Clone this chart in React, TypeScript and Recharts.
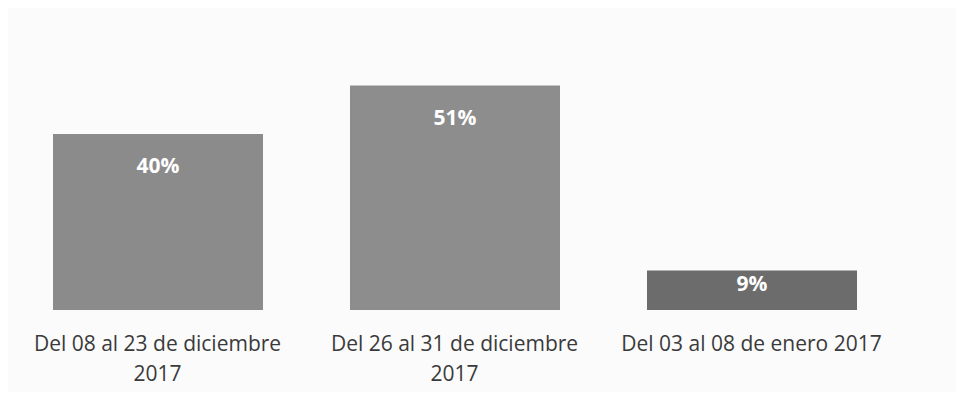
import React from "react";
import { BarChart, Bar, XAxis, YAxis, Cell, LabelList } from "recharts";

const categories = [
  "Del 08 al 23 de diciembre 2017",
  "Del 26 al 31 de diciembre 2017",
  "Del 03 al 08 de enero 2017",
];
const percentages = [40, 51, 9];
const barColors = ["#8b8b8b", "#8d8d8d", "#6c6c6c"];

const data = categories.map((c, i) => ({ name: c, value: percentages[i] }));

const FONT = "'Open Sans', sans-serif";
const TICK_SIZE = 21;

function measure(text: string): number {
  try {
    const cv = document.createElement("canvas");
    const ctx = cv.getContext("2d");
    if (ctx) {
      ctx.font = `${TICK_SIZE}px 'Open Sans'`;
      return ctx.measureText(text).width;
    }
  } catch (e) {}
  return text.length * TICK_SIZE * 0.55;
}

function wrap(text: string, maxW: number): string[] {
  const words = text.split(" ");
  const lines: string[] = [];
  let cur = "";
  for (const w of words) {
    const t = cur ? cur + " " + w : w;
    if (measure(t) > maxW && cur) {
      lines.push(cur);
      cur = w;
    } else cur = t;
  }
  if (cur) lines.push(cur);
  return lines;
}

const Tick = (props: any) => {
  const { x, y, payload } = props;
  const lines = wrap(String(payload.value), 280);
  return (
    <g>
      {lines.map((l, i) => (
        <text
          key={i}
          x={x}
          y={y + 33 + i * 30}
          textAnchor="middle"
          fill="#3a3a3a"
          fontFamily={FONT}
          fontSize={TICK_SIZE}
        >
          {l}
        </text>
      ))}
    </g>
  );
};

const ValueLabel = (props: any) => {
  const { x, y, width, height, value } = props;
  const off = Math.min(31, height * 0.33);
  return (
    <text
      x={x + width / 2}
      y={y + off}
      textAnchor="middle"
      dominantBaseline="central"
      fill="#ffffff"
      fontFamily={FONT}
      fontWeight="bold"
      fontSize={21}
    >
      {value}%
    </text>
  );
};

export default function App() {
  return (
    <div style={{ width: 948, height: 384, background: "#fbfbfb" }}>
      <BarChart
        width={948}
        height={384}
        data={data}
        margin={{ top: 38, right: 56, left: 1, bottom: 0 }}
      >
        <XAxis
          dataKey="name"
          axisLine={false}
          tickLine={false}
          tick={<Tick />}
          interval={0}
          height={82}
        />
        <YAxis hide domain={[0, 60]} />
        <Bar dataKey="value" barSize={210} isAnimationActive={false}>
          {data.map((d, i) => (
            <Cell key={i} fill={barColors[i]} />
          ))}
          <LabelList dataKey="value" content={<ValueLabel />} />
        </Bar>
      </BarChart>
    </div>
  );
}
